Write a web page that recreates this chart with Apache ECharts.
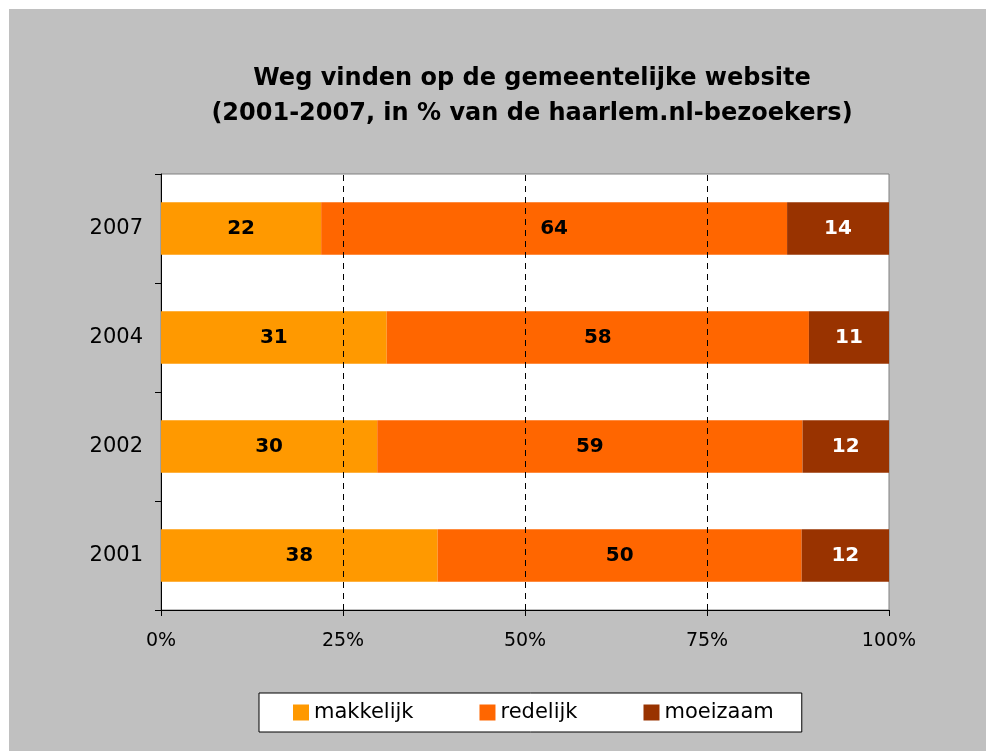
<!DOCTYPE html>
<html>
<head>
<meta charset="utf-8">
<script src="https://cdn.jsdelivr.net/npm/echarts@6/dist/echarts.min.js"></script>
<style>
  body { margin: 0; background: #fff; }
  #chart { position: absolute; left: 9px; top: 9px; width: 977px; height: 742px; }
</style>
</head>
<body>
<div id="chart"></div>
<script>
// jaren (onderaan eerst, zoals in de grafiek)
var years = ["2001", "2002", "2004", "2007"];
var makkelijk = [38, 30, 31, 22];
var redelijk = [50, 59, 58, 64];
var moeizaam = [12, 12, 11, 14];
var xTicks = [0, 25, 50, 75, 100];
var gridLines = [25, 50, 75];

var seriesNames = ["makkelijk", "redelijk", "moeizaam"];
var raw = [makkelijk, redelijk, moeizaam];
var colors = ["#FF9900", "#FF6600", "#993300"];
var labelColors = ["#000", "#000", "#fff"];

// 100% gestapeld: elke rij schalen naar zijn totaal
var totals = years.map(function (y, i) {
  return makkelijk[i] + redelijk[i] + moeizaam[i];
});

var font = "DejaVu Sans";

var series = raw.map(function (arr, s) {
  return {
    name: seriesNames[s],
    type: "bar",
    stack: "totaal",
    barWidth: "48%",
    z: 3,
    itemStyle: { color: colors[s] },
    label: {
      show: true,
      position: "inside",
      color: labelColors[s],
      fontFamily: font,
      fontWeight: "bold",
      fontSize: 20,
      formatter: function (p) { return arr[p.dataIndex]; }
    },
    data: arr.map(function (v, i) { return v / totals[i] * 100; })
  };
});

// gestippelde hulplijnen achter de balken (niet op de rand bij 100%)
series.unshift({
  name: "hulplijnen",
  type: "bar",
  z: 1,
  data: [],
  markLine: {
    silent: true,
    symbol: "none",
    label: { show: false },
    lineStyle: { color: "#000", type: [6, 5], width: 1 },
    data: gridLines.map(function (v) { return { xAxis: v }; })
  }
});

var chart = echarts.init(document.getElementById("chart"));
chart.setOption({
  backgroundColor: "#C0C0C0",
  animation: false,
  title: {
    text: "Weg vinden op de gemeentelijke website\n(2001-2007, in % van de haarlem.nl-bezoekers)",
    left: 518,
    textAlign: "center",
    top: 47,
    textStyle: {
      fontFamily: font,
      fontWeight: "bold",
      fontSize: 24,
      lineHeight: 35,
      color: "#000"
    }
  },
  legend: {
    left: 250,
    top: 684,
    itemWidth: 16,
    itemHeight: 16,
    itemGap: 66,
    icon: "rect",
    padding: [9, 28, 9, 34],
    backgroundColor: "#fff",
    borderColor: "#000",
    borderWidth: 1,
    borderRadius: 0,
    textStyle: { fontFamily: font, fontSize: 21, color: "#000" },
    data: seriesNames
  },
  grid: {
    left: 152,
    right: 97,
    top: 165,
    bottom: 141,
    show: true,
    backgroundColor: "#fff",
    borderColor: "#808080",
    borderWidth: 1
  },
  xAxis: {
    type: "value",
    min: xTicks[0],
    max: xTicks[xTicks.length - 1],
    interval: 25,
    axisLine: { show: true, lineStyle: { color: "#000", width: 1 } },
    axisTick: { show: true, length: 6, lineStyle: { color: "#000" } },
    axisLabel: {
      margin: 22,
      fontFamily: font,
      fontSize: 19,
      color: "#000",
      formatter: "{value}%"
    },
    splitLine: { show: false }
  },
  yAxis: {
    type: "category",
    data: years,
    axisLine: { show: true, lineStyle: { color: "#000", width: 1 } },
    axisTick: { show: true, length: 6, lineStyle: { color: "#000" } },
    axisLabel: { margin: 18, fontFamily: font, fontSize: 21, color: "#000" },
    splitLine: { show: false }
  },
  series: series
});
</script>
</body>
</html>
